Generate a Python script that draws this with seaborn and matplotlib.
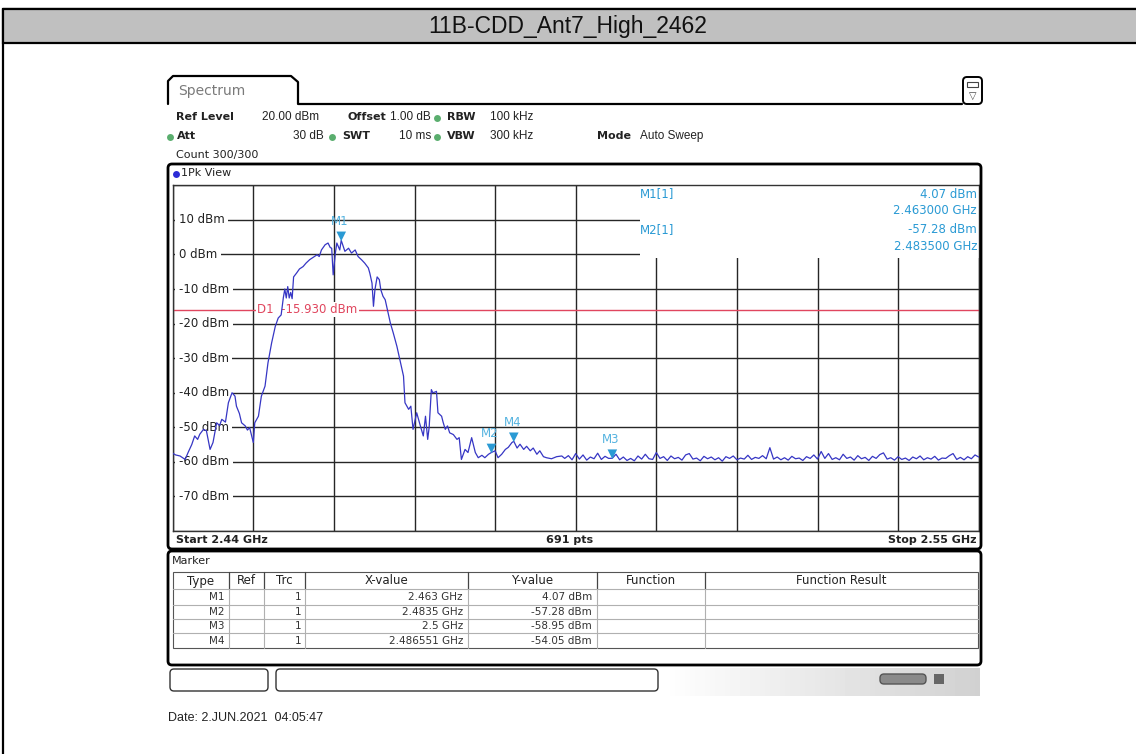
import numpy as np
import matplotlib
matplotlib.use("Agg")
import matplotlib.pyplot as plt
import matplotlib.transforms as mtrans
from matplotlib.patches import Rectangle, FancyBboxPatch
import seaborn as sns

# ---- data ----
chart_title = "11B-CDD_Ant7_High_2462"
date_text = "Date: 2.JUN.2021  04:05:47"
start_ghz = 2.44
stop_ghz = 2.55
n_points = 691
ref_level = 20
level_ticks = [10, 0, -10, -20, -30, -40, -50, -60, -70]
d1_level = -15.930

# main lobe and side lobes (MHz, dBm)
band_mhz = [
    2440.0, 2440.4, 2441.0, 2441.7, 2442.1, 2442.6, 2443.0, 2443.4, 2443.7, 2444.2,
    2444.6, 2445.1, 2445.5, 2446.0, 2446.4, 2446.7, 2447.2, 2447.6, 2448.1, 2448.5,
    2448.7, 2449.1, 2449.4, 2449.9, 2450.2, 2450.5, 2451.0, 2451.2, 2451.7, 2452.1,
    2452.6, 2453.0, 2453.5, 2454.0, 2454.4, 2454.8, 2455.1, 2455.3, 2455.5, 2455.7,
    2455.9, 2456.1, 2456.3, 2456.5, 2456.9, 2457.3, 2457.8, 2458.2, 2458.7, 2459.2,
    2459.7, 2460.0, 2460.3, 2460.8, 2461.2, 2461.5, 2461.7, 2461.9, 2462.2, 2462.4,
    2462.8, 2463.0, 2463.5, 2464.0, 2464.4, 2464.9, 2465.3, 2465.8, 2466.2, 2466.7,
    2466.9, 2467.2, 2467.4, 2467.6, 2467.9, 2468.2, 2468.4, 2468.7, 2469.0, 2469.3,
    2469.7, 2470.1, 2470.6, 2471.0, 2471.5, 2471.7, 2472.2, 2472.5, 2472.8, 2473.3,
    2473.8, 2474.2, 2474.5, 2474.8, 2475.0, 2475.3, 2475.5, 2475.8, 2476.0, 2476.2,
    2476.7, 2476.9, 2477.2, 2477.5, 2477.8, 2478.3, 2478.8, 2479.1, 2479.4, 2479.9,
    2480.3, 2480.8, 2481.3, 2481.7, 2482.2, 2482.6, 2483.1, 2483.5, 2484.0, 2484.4,
    2484.9, 2485.4, 2485.8, 2486.3, 2486.551, 2487.0, 2487.4, 2487.9, 2488.3, 2488.8,
    2489.2, 2489.7, 2490.1, 2490.6, 2491.0, 2491.7, 2492.4, 2493.1,
]
band_dbm = [
    -57.5, -58.0, -58.3, -59.3, -57.3, -55.0, -52.5, -53.5, -52.0, -50.6,
    -51.0, -56.4, -54.4, -48.7, -49.5, -47.7, -48.5, -42.9, -40.0, -41.0,
    -43.9, -46.0, -48.7, -49.6, -50.8, -50.1, -54.4, -48.7, -46.8, -41.0,
    -38.1, -31.4, -25.6, -20.8, -18.4, -17.5, -12.5, -10.0, -12.6, -9.3,
    -12.6, -11.0, -12.8, -6.5, -5.4, -4.2, -3.5, -2.5, -1.5, -0.8,
    -0.1, -0.6, 1.3, 2.8, 3.3, 2.0, 1.8, -5.9, 0.4, 3.3,
    1.3, 4.07, 0.9, 1.8, 0.4, 1.3, -0.6, -1.6, -2.5, -3.9,
    -5.4, -8.3, -15.0, -10.2, -6.5, -7.3, -10.2, -12.1, -13.1, -16.0,
    -19.8, -22.7, -26.6, -30.4, -35.2, -42.9, -44.8, -43.9, -50.6, -45.8,
    -49.6, -52.5, -46.8, -53.5, -50.0, -39.1, -40.0, -39.8, -39.6, -45.8,
    -46.8, -48.5, -50.6, -49.6, -51.6, -52.1, -53.5, -53.0, -59.3, -56.4,
    -57.3, -53.0, -57.3, -58.8, -58.1, -58.8, -57.8, -57.28, -56.8, -58.8,
    -57.8, -56.4, -55.8, -54.4, -54.05, -56.0, -54.9, -56.4, -55.5, -56.8,
    -56.0, -57.8, -56.8, -58.5, -58.8, -59.1, -58.5, -58.3,
]

# noise floor (MHz, dBm)
floor_mhz = [
    2493.5, 2494.0, 2494.5, 2495.0, 2495.5, 2496.0, 2496.5, 2497.0, 2497.5, 2498.0,
    2498.5, 2499.0, 2499.5, 2500.0, 2500.5, 2501.0, 2501.5, 2502.0, 2502.5, 2503.0,
    2503.5, 2504.0, 2504.5, 2505.0, 2505.5, 2506.0, 2506.5, 2507.0, 2507.5, 2508.0,
    2508.5, 2509.0, 2509.5, 2510.0, 2510.5, 2511.0, 2511.5, 2512.0, 2512.5, 2513.0,
    2513.5, 2514.0, 2514.5, 2515.0, 2515.5, 2516.0, 2516.5, 2517.0, 2517.5, 2518.0,
    2518.5, 2519.0, 2519.5, 2520.0, 2520.5, 2521.0, 2521.5, 2522.0, 2522.5, 2523.0,
    2523.5, 2524.0, 2524.5, 2525.0, 2525.5, 2526.0, 2526.5, 2527.0, 2527.5, 2528.0,
    2528.5, 2529.0, 2529.5, 2530.0, 2530.5, 2531.0, 2531.5, 2532.0, 2532.5, 2533.0,
    2533.5, 2534.0, 2534.5, 2535.0, 2535.5, 2536.0, 2536.5, 2537.0, 2537.5, 2538.0,
    2538.5, 2539.0, 2539.5, 2540.0, 2540.5, 2541.0, 2541.5, 2542.0, 2542.5, 2543.0,
    2543.5, 2544.0, 2544.5, 2545.0, 2545.5, 2546.0, 2546.5, 2547.0, 2547.5, 2548.0,
    2548.5, 2549.0, 2549.5, 2550.0,
]
floor_dbm = [
    -59.0, -58.2, -59.4, -57.6, -59.2, -58.0, -59.5, -58.6, -59.1, -57.5,
    -59.3, -58.4, -59.0, -58.95, -57.8, -59.4, -58.6, -59.6, -59.0, -59.7,
    -58.3, -59.2, -57.8, -59.1, -59.3, -57.3, -59.0, -58.5, -59.6, -58.3,
    -59.1, -58.7, -59.5, -58.0, -57.6, -59.2, -58.9, -59.7, -58.4, -59.1,
    -58.6, -59.4, -58.8, -59.8, -58.5, -59.0, -58.3, -59.4, -58.9, -59.2,
    -58.1, -59.3, -58.7, -59.0, -58.2, -59.1, -55.9, -59.2, -58.6, -59.4,
    -58.8, -59.5, -58.4, -59.1, -58.9, -59.6, -58.5, -59.0, -58.0, -59.2,
    -57.0, -59.0, -57.6, -59.3, -58.8, -59.4, -57.8, -59.0, -58.6, -59.5,
    -58.2, -59.1, -58.7, -59.6, -58.4, -59.0, -57.9, -57.4, -59.2, -58.8,
    -59.5, -58.5, -59.3, -58.9, -59.6, -58.6, -59.1, -58.3, -59.4, -58.8,
    -59.2, -58.4, -59.5, -58.9, -59.0, -58.2, -57.6, -59.3, -58.7, -59.4,
    -58.5, -59.1, -58.0, -58.6,
]

marker_names = ["M1", "M2", "M3", "M4"]
marker_ghz = [2.463, 2.4835, 2.5, 2.486551]
marker_dbm = [4.07, -57.28, -58.95, -54.05]

table_cols = ["Type", "Ref", "Trc", "X-value", "Y-value", "Function", "Function Result"]

# ---- style ----
sns.set_style("white")
plt.rcParams["font.family"] = ["DejaVu Sans"]

trace_col = "#3636c4"
mark_col = "#2a9ad4"
d1_col = "#e0465e"
grid_col = "#262626"
dot_green = "#5aae6e"

W, H = 1136, 754
fig = plt.figure(figsize=(W / 100, H / 100), dpi=100)
fig.patch.set_facecolor("white")

# plot area in pixel terms
px_l, px_r, px_t, px_b = 172.7, 978.7, 185.3, 531.0
ax = fig.add_axes([px_l / W, 1 - px_b / H, (px_r - px_l) / W, (px_b - px_t) / H])

trace_mhz = band_mhz + floor_mhz
trace_dbm = band_dbm + floor_dbm
sns.lineplot(x=trace_mhz, y=trace_dbm, estimator=None, sort=False,
             color=trace_col, lw=0.9, ax=ax, zorder=3)

f0, f1 = start_ghz * 1000, stop_ghz * 1000
ax.set_xlim(f0, f1)
ax.set_ylim(ref_level - 100, ref_level)
ax.set_xticks(np.linspace(f0, f1, 11))
ax.set_yticks(np.arange(ref_level - 100, ref_level + 1, 10))
ax.set_axisbelow(True)
ax.grid(True, color=grid_col, lw=1.0)
ax.tick_params(length=0, labelbottom=False, labelleft=False)
ax.set_xlabel("")
ax.set_ylabel("")
for s in ax.spines.values():
    s.set_color("#333333")
    s.set_linewidth(1.0)

# blank area for the marker readout
span = f1 - f0
ax.add_patch(Rectangle((f0 + span * 0.58, -1.0), span * 0.42, ref_level + 1.0,
                       facecolor="white", edgecolor="none", zorder=1))

# level labels inside the grid
ytf = mtrans.blended_transform_factory(ax.transAxes, ax.transData)
for lv in level_ticks:
    ax.text(0.0075, lv, f"{lv} dBm", transform=ytf, ha="left", va="center",
            fontsize=8.5, color="#222222", zorder=1.5,
            bbox=dict(facecolor="white", edgecolor="none", pad=2.6))

# display line D1
ax.axhline(d1_level, color=d1_col, lw=1.0, zorder=1.6)
ax.text(0.105, d1_level, f"D1  {d1_level:.3f} dBm", transform=ytf, ha="left",
        va="center", fontsize=8.5, color=d1_col, zorder=1.7,
        bbox=dict(facecolor="white", edgecolor="none", pad=0.8))

# markers
mk_mhz = [g * 1000 for g in marker_ghz]
tri = mtrans.offset_copy(ax.transData, fig=fig, x=0, y=4, units="dots")
sns.scatterplot(x=mk_mhz, y=marker_dbm, marker="v", s=48, color=mark_col,
                edgecolor="none", ax=ax, zorder=4, transform=tri, legend=False)
for name, xm, ym in zip(marker_names, mk_mhz, marker_dbm):
    ax.annotate(name, (xm, ym), xytext=(-1, 9), textcoords="offset points",
                ha="center", va="bottom", fontsize=8.5, color="#55b3e0", zorder=4)

# ---- screen furniture (pixel coordinates) ----
scr = fig.add_axes([0, 0, 1, 1], facecolor="none")
scr.set_xlim(0, W)
scr.set_ylim(H, 0)
scr.axis("off")

# outer frame and title band
scr.add_patch(Rectangle((3, 9), W + 10, H, facecolor="none", edgecolor="black", lw=1.6))
scr.add_patch(Rectangle((3, 9), W + 10, 34, facecolor="#c0c0c0", edgecolor="black", lw=1.6))
scr.text(568, 26, chart_title, ha="center", va="center", fontsize=16.5,
         family="Liberation Sans", color="#111111")

# Spectrum tab
scr.plot([168, 168, 173, 291, 298, 298, 962], [104, 81, 76, 76, 82, 104, 104],
         color="black", lw=1.6, solid_joinstyle="round")
scr.text(178, 91, "Spectrum", ha="left", va="center", fontsize=10, color="#7a7a7a")
scr.add_patch(FancyBboxPatch((963, 77), 19, 27, boxstyle="round,pad=0,rounding_size=4",
                             facecolor="white", edgecolor="black", lw=1.4))
scr.add_patch(Rectangle((967, 82), 11, 5, facecolor="white", edgecolor="#444444", lw=0.8))
scr.text(972.5, 96, "\u25bd", ha="center", va="center", fontsize=7, color="#444444")


# header settings
def hdr(x, y, s, bold=False, ha="left", fam="DejaVu Sans", size=8):
    scr.text(x, y, s, ha=ha, va="center", fontsize=size, color="#222222",
             fontweight="bold" if bold else "normal", family=fam)


def val(x, y, s, ha="left"):
    hdr(x, y, s, ha=ha, fam="Liberation Sans", size=8.5)


def dot(x, y, c=dot_green):
    scr.plot([x], [y], marker="o", ms=5, color=c, mec="none")


hdr(176, 117, "Ref Level", True)
val(262, 117, f"{ref_level:.2f} dBm")
hdr(348, 117, "Offset", True)
val(390, 117, "1.00 dB")
dot(437, 118)
hdr(447, 117, "RBW", True)
val(490, 117, "100 kHz")
dot(170, 137)
hdr(177, 136, "Att", True)
val(324, 136, "30 dB", ha="right")
dot(332, 137)
hdr(342, 136, "SWT", True)
val(431, 136, "10 ms", ha="right")
dot(437, 137)
hdr(447, 136, "VBW", True)
val(490, 136, "300 kHz")
hdr(597, 136, "Mode", True)
val(640, 136, "Auto Sweep")
hdr(176, 155, "Count 300/300")

# diagram frame
scr.add_patch(FancyBboxPatch((168, 164), 813, 385, boxstyle="round,pad=0,rounding_size=4",
                             facecolor="none", edgecolor="black", lw=2.0))
dot(176, 174, "#2b2bd6")
hdr(181, 173, "1Pk View")
hdr(176, 540, f"Start {start_ghz:g} GHz", True)
hdr(570, 540, f"{n_points} pts", True, ha="center")
hdr(976, 540, f"Stop {stop_ghz:g} GHz", True, ha="right")

# marker readout (top right of the diagram)
for i in range(2):
    y0 = 194 + i * 35.5
    scr.text(640, y0, f"{marker_names[i]}[1]", ha="left", va="center", fontsize=8.5, color=mark_col)
    scr.text(977, y0, f"{marker_dbm[i]:.2f} dBm", ha="right", va="center", fontsize=8.5, color=mark_col)
    scr.text(977, y0 + 17, f"{marker_ghz[i]:.6f} GHz", ha="right", va="center", fontsize=8.5, color=mark_col)

# marker table panel
scr.add_patch(FancyBboxPatch((168, 551), 813, 114, boxstyle="round,pad=0,rounding_size=4",
                             facecolor="none", edgecolor="black", lw=2.0))
hdr(172, 561, "Marker")
col_edges = [173, 229, 264, 305, 468, 597, 705, 978]
row_edges = [572, 589, 605, 619, 633, 648]
scr.add_patch(Rectangle((col_edges[0], row_edges[0]), col_edges[-1] - col_edges[0],
                        row_edges[-1] - row_edges[0], facecolor="none", edgecolor="#555555", lw=0.8))
for xe in col_edges[1:-1]:
    scr.plot([xe, xe], [row_edges[0], row_edges[1]], color="#444444", lw=0.9)
    scr.plot([xe, xe], [row_edges[1], row_edges[-1]], color="#b0b0b0", lw=0.8)
for ye in row_edges[1:-1]:
    scr.plot([col_edges[0], col_edges[-1]], [ye, ye], color="#b0b0b0", lw=0.8)
for j, name in enumerate(table_cols):
    xc = (col_edges[j] + col_edges[j + 1]) / 2
    scr.text(xc, 581, name, ha="center", va="center", fontsize=8.5, color="#222222")


def fmt_ghz(g):
    return f"{g:.6f}".rstrip("0").rstrip(".") + " GHz"


for i, name in enumerate(marker_names):
    yc = (row_edges[i + 1] + row_edges[i + 2]) / 2
    scr.text(col_edges[1] - 4, yc, name, ha="right", va="center", fontsize=7.5, color="#333333")
    scr.text(col_edges[3] - 4, yc, "1", ha="right", va="center", fontsize=7.5, color="#333333")
    scr.text(col_edges[4] - 5, yc, fmt_ghz(marker_ghz[i]), ha="right", va="center", fontsize=7.5, color="#333333")
    scr.text(col_edges[5] - 5, yc, f"{marker_dbm[i]:.2f} dBm", ha="right", va="center", fontsize=7.5, color="#333333")

# status bar
scr.add_patch(FancyBboxPatch((170, 669), 98, 22, boxstyle="round,pad=0,rounding_size=4",
                             facecolor="white", edgecolor="#333333", lw=1.0))
scr.add_patch(FancyBboxPatch((276, 669), 382, 22, boxstyle="round,pad=0,rounding_size=4",
                             facecolor="white", edgecolor="#333333", lw=1.0))
grad = np.linspace(1.0, 0.82, 64).reshape(1, -1)
scr.imshow(np.vstack([grad, grad]), cmap="gray", vmin=0, vmax=1, aspect="auto",
           extent=(660, 980, 696, 668), zorder=0)
scr.add_patch(FancyBboxPatch((880, 674), 46, 10, boxstyle="round,pad=0,rounding_size=4",
                             facecolor="#8a8a8a", edgecolor="#555555", lw=1.0))
scr.add_patch(Rectangle((934, 674), 10, 10, facecolor="#666666", edgecolor="none"))
scr.set_xlim(0, W)
scr.set_ylim(H, 0)

scr.text(168, 718, date_text, ha="left", va="center", fontsize=9,
         family="Liberation Sans", color="#222222")

fig.savefig("out.png", dpi=100)
